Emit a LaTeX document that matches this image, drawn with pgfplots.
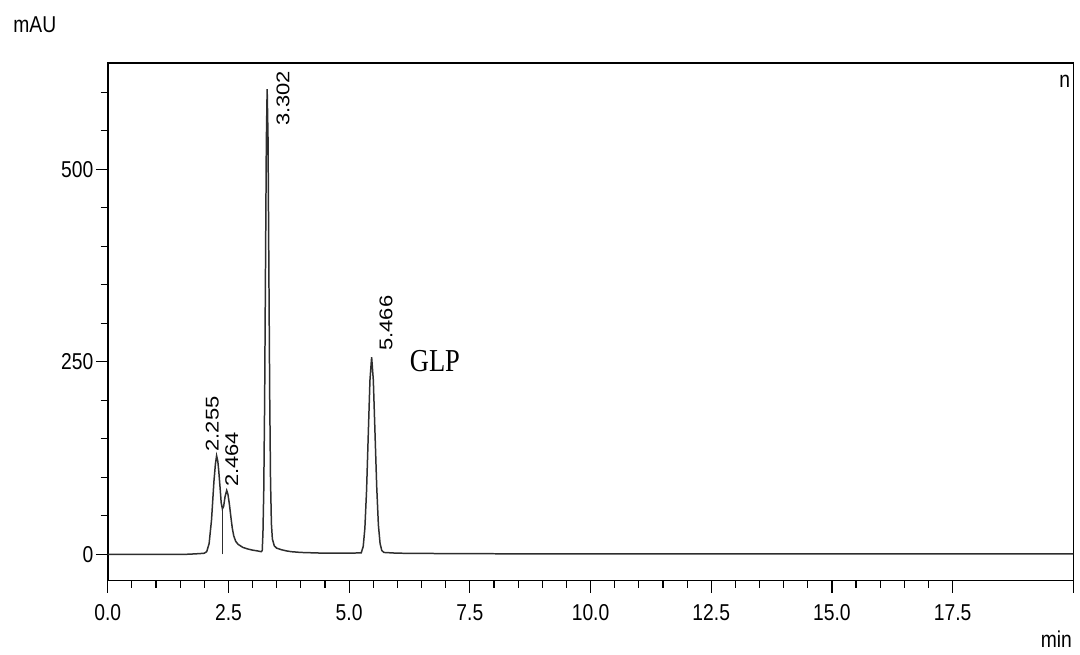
\documentclass[border=0pt]{standalone}
\usepackage{fontspec}
\usepackage{graphicx}
\usepackage{pgfplots}
\pgfplotsset{compat=1.18}
\setmainfont{Liberation Sans}
\newfontfamily\axisfont{Liberation Sans}[FakeStretch=0.84]
\newfontfamily\peakfont{Liberation Sans}
\newfontfamily\glpfont{Liberation Serif}[FakeStretch=0.83]
\definecolor{trace}{gray}{0.18}
% retention-time labels: set upright, narrowed across the glyphs, then turned
\newcommand\peaklabel[1]{\rotatebox{90}{\scalebox{1}[0.84]{\peakfont\fontsize{11}{13}\selectfont #1}}}

\begin{document}
\begin{tikzpicture}
\begin{axis}[
  name=ax,
  scale only axis,
  width=484pt, height=259.5pt,
  xmin=0, xmax=20, ymin=-34, ymax=638,
  axis line style={line width=0.8pt, black},
  xtick={0,2.5,...,17.5},
  extra x ticks={20}, extra x tick labels={},
  minor x tick num=4,
  ytick={0,250,500},
  minor ytick={50,100,...,600},
  tick align=outside,
  xtick pos=bottom, ytick pos=left,
  major tick length=6pt, minor tick length=3.5pt,
  tick style={black, line width=0.6pt},
  ticklabel style={font=\axisfont\fontsize{11.5}{13}\selectfont},
  /pgf/number format/assume math mode=true,
  xticklabel style={yshift=-2.5pt, /pgf/number format/fixed, /pgf/number format/fixed zerofill, /pgf/number format/precision=1},
  yticklabel style={inner sep=1pt, /pgf/number format/fixed, /pgf/number format/precision=0},
]
% detector signal
\addplot[trace, line width=0.75pt] coordinates {
  (0,0) (1.0,0) (1.6,0) (1.8,0.6) (1.95,1.2) (2.00,1.5) (2.05,3.5)
  (2.10,14) (2.15,45) (2.20,95) (2.23,117) (2.255,128) (2.28,121)
  (2.30,108) (2.33,84) (2.35,67) (2.375,59) (2.40,62) (2.43,75)
  (2.464,83) (2.49,78) (2.52,65) (2.55,49) (2.58,34) (2.61,24)
  (2.65,17) (2.70,13) (2.80,9) (2.90,7) (3.00,5.5) (3.10,4.5)
  (3.18,3.5) (3.20,5) (3.215,28) (3.232,84) (3.250,200) (3.267,365)
  (3.285,535) (3.302,604) (3.320,540) (3.337,375) (3.355,205)
  (3.372,95) (3.39,40) (3.41,20) (3.45,11) (3.50,8) (3.60,6)
  (3.70,4.5) (3.80,3.5) (4.00,2.5) (4.50,1.5) (5.00,1.5) (5.25,2)
  (5.291,10) (5.326,34) (5.361,83) (5.396,155) (5.431,226) (5.466,256)
  (5.501,226) (5.536,157) (5.571,88) (5.606,38) (5.641,14) (5.676,5)
  (5.72,2.5) (6.0,1.5) (7.0,1) (8.0,0.8) (10.0,0.5) (20.0,0.5)
};
% drop line at the valley between the first two peaks
\addplot[trace, line width=0.5pt] coordinates {(2.375,0) (2.375,59)};

\node[anchor=south, inner sep=0] at (axis cs:2.163,133) {\peaklabel{2.255}};
\node[anchor=south, inner sep=0] at (axis cs:2.567,87) {\peaklabel{2.464}};
\node[anchor=south, inner sep=0] at (axis cs:3.632,555.7) {\peaklabel{3.302}};
\node[anchor=south, inner sep=0] at (axis cs:5.765,264) {\peaklabel{5.466}};
\node[anchor=base west, inner sep=0, font=\glpfont\fontsize{16}{18}\selectfont]
  at (axis cs:6.25,237) {GLP};
\end{axis}
\node[anchor=west, inner sep=0, font=\axisfont\fontsize{11.5}{13}\selectfont]
  at ([xshift=-47.5pt, yshift=19pt]ax.north west) {mAU};
\node[anchor=base east, inner sep=0, font=\axisfont\fontsize{11.5}{13}\selectfont]
  at ([xshift=-0.5pt, yshift=-33.5pt]ax.south east) {min};
\node[anchor=base east, inner sep=0, font=\axisfont\fontsize{11.5}{13}\selectfont]
  at ([xshift=-1.5pt, yshift=-12.5pt]ax.north east) {n};
\path ([xshift=-54pt, yshift=-37pt]ax.south west) rectangle ([xshift=2pt, yshift=31.5pt]ax.north east);
\end{tikzpicture}
\end{document}
